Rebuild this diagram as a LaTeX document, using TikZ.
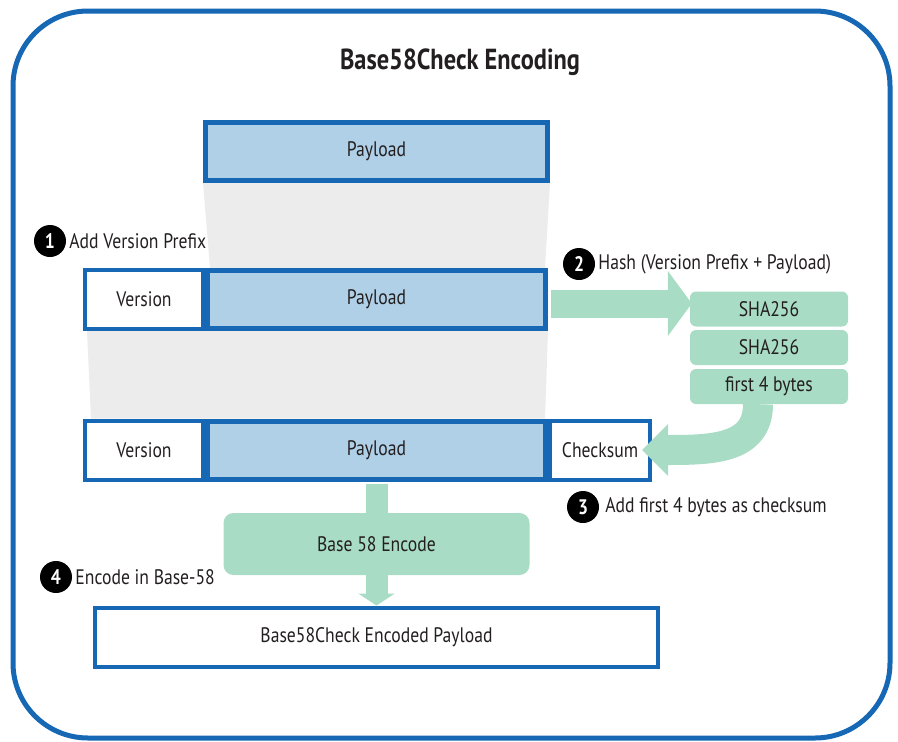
\documentclass[tikz,border=0pt]{standalone}
\usepackage{fontspec}
\setmainfont{PT Sans}[FakeStretch=0.84]
\usetikzlibrary{positioning,arrows.meta,backgrounds}

\definecolor{bordaazul}{RGB}{22,103,180}
\definecolor{azulclaro}{RGB}{176,208,232}
\definecolor{verdeclaro}{RGB}{169,220,197}
\definecolor{cinzaclaro}{RGB}{236,236,236}
\definecolor{texto}{RGB}{35,31,32}

\tikzset{
    caixa/.style={draw=bordaazul, line width=4pt, minimum height=59pt, inner sep=0pt,
        text=texto, font=\fontsize{21}{24}\selectfont},
    carga/.style={caixa, fill=azulclaro, line width=5pt, minimum height=58pt},
    hashbox/.style={fill=verdeclaro, rounded corners=6pt, minimum width=158pt,
        minimum height=35pt, inner sep=0pt, text=texto, font=\fontsize{21}{24}\selectfont},
    passo/.style={circle, fill=black, text=white, minimum size=32pt, inner sep=0pt,
        font=\bfseries\fontsize{21}{24}\selectfont},
    rotulo/.style={text=texto, inner sep=2pt, font=\fontsize{21}{24}\selectfont},
    seta/.style={draw=verdeclaro, line width=28pt}
}

\begin{document}
\begin{tikzpicture}[x=1pt,y=-1pt]
    \useasboundingbox (0,0) rectangle (898,742);
    % Moldura externa e titulo
    \draw[bordaazul, line width=5pt, rounded corners=75pt] (13,11) rectangle (890,738);
    \node[text=texto, font=\bfseries\fontsize{29}{34}\selectfont] (titulo) at (460,62) {Base58Check Encoding};
    % Blocos azuis
    \node[carga, minimum width=342pt] (p1) at (376.5,151.5) {Payload};
    \node[caixa, minimum width=118pt] (v2) at (144,299.5) {Version};
    \node[carga, minimum width=338pt] (p2) at (376.5,299.5) {Payload};
    \node[caixa, minimum width=118pt] (v3) at (144,450) {Version};
    \node[caixa, minimum width=100pt] (chk) at (600,450) {Checksum};
    \node[carga, minimum width=338pt] (p3) at (376.5,450) {Payload};
    \node[caixa, minimum width=563pt] (saida) at (376.5,637) {Base58Check Encoded Payload};
    % Blocos verdes
    \node[hashbox] (s1) at (769,309) {SHA256};
    \node[hashbox] (s2) at (769,347.5) {SHA256};
    \node[hashbox] (s3) at (769,386.5) {first 4 bytes};
    \node[hashbox, rounded corners=10pt, minimum width=306pt, minimum height=62pt] (enc) at (376.5,544) {Base 58 Encode};
    % Faixas cinzas ao fundo
    \begin{scope}[on background layer]
        \fill[cinzaclaro] (p1.south west) -- (p1.south east) -- ([xshift=-3pt]p2.north east) -- ([xshift=5pt]p2.north west) -- cycle;
        \fill[cinzaclaro] ([xshift=4pt]v2.south west) -- (p2.south east) -- ([xshift=-3pt]p3.north east) -- ([xshift=8pt]v3.north west) -- cycle;
    \end{scope}
    % Setas verdes
    \draw[seta, -{Triangle[length=24pt,width=64pt]}] ([xshift=2.5pt,yshift=-4pt]p2.east) -- ([xshift=2pt,yshift=-4pt]p2.east -| s1.west);
    \draw[seta, line width=30pt, -{Triangle[length=26pt,width=50pt]}] ([xshift=-11pt]s3.south) .. controls +(0,45) and +(70,0) .. ([xshift=-10pt]chk.east);
    \draw[seta, line width=22pt] ([yshift=-2.5pt]p3.south) -- (enc.north);
    \draw[seta, line width=22pt, -{Triangle[length=12pt,width=36pt]}] (enc.south) -- (saida.north);
    % Passos numerados
    \node[passo] (n1) at (50,241) {1};
    \node[rotulo, right=1pt of n1] (t1) {Add Version Prefix};
    \node[passo] (n2) at (579,264) {2};
    \node[rotulo, right=1pt of n2] (t2) {Hash (Version Prefix + Payload)};
    \node[passo] (n3) at (583,507) {3};
    \node[rotulo, right=4pt of n3] (t3) {Add first 4 bytes as checksum};
    \node[passo] (n4) at (56,577) {4};
    \node[rotulo, right=1pt of n4] (t4) {Encode in Base-58};
\end{tikzpicture}
\end{document}
